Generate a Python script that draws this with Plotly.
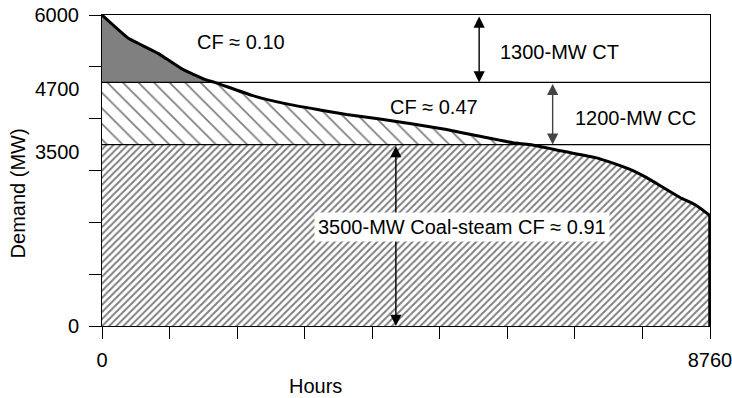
import numpy as np
import plotly.graph_objects as go

# Load duration curve
hours = [0, 375, 519, 807, 1145, 1480, 1625, 2173, 2658, 3138, 3523, 4003, 4479,
         4964, 5444, 5920, 6165, 6645, 7127, 7607, 7848, 8087, 8328, 8569, 8760]
demand = [6000, 5557, 5455, 5260, 4966, 4759, 4700, 4445, 4285, 4168, 4080, 3993, 3899,
          3790, 3659, 3535, 3500, 3370, 3244, 3022, 2862, 2671, 2480, 2321, 2130]

peak = 6000
ct_level = 4700
coal_level = 3500
total_hours = 8760

y_labels = ["6000", "4700", "3500", "0"]
x_labels = ["0", "8760"]

FONT = "Liberation Sans, Arial, Helvetica, sans-serif"
SMOOTH = dict(shape="spline", smoothing=0.5)

h = np.array(hours, dtype=float)
d = np.array(demand, dtype=float)

fig = go.Figure()

# Base-load (coal) region
fig.add_trace(go.Scatter(
    x=h, y=np.minimum(d, coal_level), mode="lines", line=dict(width=0, **SMOOTH),
    fill="tozeroy", fillcolor="white",
    fillpattern=dict(shape="/", size=5, solidity=0.4, fgcolor="black", bgcolor="white"),
    hoverinfo="skip", showlegend=False))

# Intermediate (CC) region
mid = d >= coal_level
fig.add_trace(go.Scatter(x=h[mid], y=np.full(mid.sum(), coal_level), mode="lines",
                         line=dict(width=0), hoverinfo="skip", showlegend=False))
fig.add_trace(go.Scatter(
    x=h[mid], y=np.minimum(d[mid], ct_level), mode="lines", line=dict(width=0, **SMOOTH),
    fill="tonexty", fillcolor="white",
    fillpattern=dict(shape="\\", size=11, solidity=0.16, fgcolor="black", bgcolor="white"),
    hoverinfo="skip", showlegend=False))

# Peaking (CT) region
top = d >= ct_level
fig.add_trace(go.Scatter(x=h[top], y=np.full(top.sum(), ct_level), mode="lines",
                         line=dict(width=0), hoverinfo="skip", showlegend=False))
fig.add_trace(go.Scatter(x=h[top], y=d[top], mode="lines", line=dict(width=0, **SMOOTH),
                         fill="tonexty", fillcolor="#808080",
                         hoverinfo="skip", showlegend=False))

# Level lines
for lvl in (ct_level, coal_level):
    fig.add_trace(go.Scatter(x=[0, total_hours], y=[lvl, lvl], mode="lines",
                             line=dict(color="black", width=1.2),
                             hoverinfo="skip", showlegend=False))

# Load duration curve
fig.add_trace(go.Scatter(x=h, y=d, mode="lines",
                         line=dict(color="black", width=3, **SMOOTH),
                         cliponaxis=False, hoverinfo="skip", showlegend=False))
fig.add_trace(go.Scatter(x=[h[-1], h[-1]], y=[d[-1], 0], mode="lines",
                         line=dict(color="black", width=3.5), cliponaxis=False,
                         hoverinfo="skip", showlegend=False))

annotations = []
# Double-headed arrows
def darrow(x, y0, y1, color="black"):
    annotations.append(dict(
        x=x, y=y1, ax=x, ay=y0, xref="x", yref="y", axref="x", ayref="y",
        text="", showarrow=True, arrowhead=2, startarrowhead=2, arrowside="end+start",
        arrowsize=1.6, startarrowsize=1.6, arrowwidth=1.4, arrowcolor=color,
        standoff=0, startstandoff=0))

darrow(5434, peak, ct_level)
darrow(6493, ct_level, coal_level, "#444444")
darrow(4234, coal_level, 0)

def txt(x, y, s, **kw):
    a = dict(x=x, y=y, xref="x", yref="y", text=s, showarrow=False,
             xanchor="center", yanchor="middle",
             font=dict(family=FONT, size=20, color="black"))
    a.update(kw)
    annotations.append(a)

txt(2000, 5479, "CF ≈ 0.10")
txt(6596, 5292, "1300-MW CT")
txt(4785, 4231, "CF ≈ 0.47")
txt(7683, 4017, "1200-MW CC")
txt(5185, 1910, "3500-MW Coal-steam CF ≈ 0.91", bgcolor="white", borderpad=3)

# Y level labels
for val, lab in ((ct_level, y_labels[1]), (coal_level, y_labels[2])):
    annotations.append(dict(x=0, y=val, xref="paper", yref="y", text=lab,
                            showarrow=False, xanchor="right", yanchor="middle",
                            xshift=-20, yshift=-7,
                            font=dict(family=FONT, size=20, color="black")))

# Axis titles
annotations.append(dict(x=0.351, y=-0.193, xref="paper", yref="paper", text="Hours",
                        xanchor="center", yanchor="middle",
                        showarrow=False, font=dict(family=FONT, size=20, color="black")))
annotations.append(dict(x=-0.139, y=0.428, xref="paper", yref="paper", text="Demand (MW)",
                        xanchor="center", yanchor="middle",
                        textangle=-90, showarrow=False,
                        font=dict(family=FONT, size=20, color="black")))

xt = [i * total_hours / 9 for i in range(10)]
xtt = [x_labels[0]] + [""] * 8 + [x_labels[1]]
yt = [i * 1000 for i in range(7)]
ytt = [y_labels[3]] + [""] * 5 + [y_labels[0]]

fig.update_layout(
    width=732, height=398,
    margin=dict(l=102, r=22, t=15, b=72, autoexpand=False),
    paper_bgcolor="white", plot_bgcolor="white",
    font=dict(family=FONT, size=20, color="black"),
    annotations=annotations,
    xaxis=dict(range=[0, total_hours], tickvals=xt, ticktext=xtt, ticks="outside",
               ticklen=12, tickwidth=1, tickcolor="black", showline=True,
               linecolor="black", linewidth=1, mirror=True, showgrid=False,
               zeroline=False, ticklabelstandoff=4, automargin=False,
               ticklabeloverflow="allow"),
    yaxis=dict(range=[0, peak], tickvals=yt, ticktext=ytt, ticks="outside",
               ticklen=12, tickwidth=1, tickcolor="black", showline=True,
               linecolor="black", linewidth=1, mirror=True, showgrid=False,
               zeroline=False, ticklabelstandoff=6, automargin=False,
               ticklabeloverflow="allow"),
)

post = ("document.body.style.margin='0';document.body.style.padding='0';"
        "var g=document.getElementById('{plot_id}');"
        "g.style.position='absolute';g.style.left='0px';g.style.top='0px';")

fig.write_html("out.html", post_script=post, config={"displayModeBar": False})
